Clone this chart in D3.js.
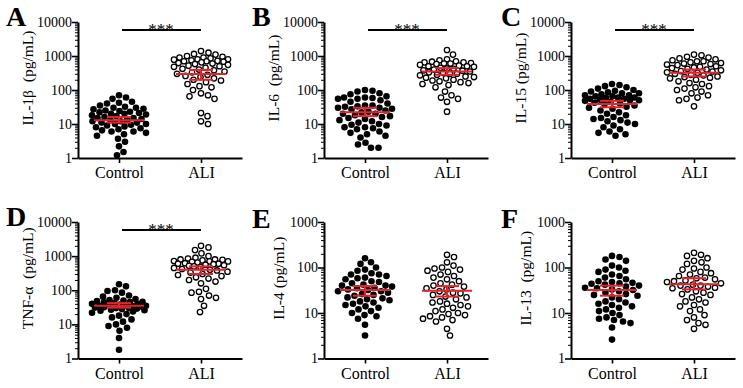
<!DOCTYPE html>
<html lang="en">
  <head>
    <meta charset="utf-8" />
    <title>Cytokines: Control vs ALI</title>
    <script type="text/javascript" src="https://cdn.jsdelivr.net/npm/d3@7"></script>
    <style type="text/css">
body { margin: 0; background: white; }
svg text { font-family: "Liberation Serif", "Times New Roman", serif; fill: black; }
    </style>
  </head>
  <body>
    <script type="text/javascript">
// values, pg/mL
var groups = ["Control", "ALI"];
var panelLetters = ["A", "B", "C", "D", "E", "F"];
var yLabels = ["IL-1\u03b2  (pg/mL)", "IL-6  (pg/mL)", "IL-15 (pg/mL)",
               "TNF-\u03b1  (pg/mL)", "IL-4 (pg/mL)", "IL-13  (pg/mL)"];
var yMax = [10000, 10000, 10000, 10000, 1000, 1000];
var showStars = [true, true, true, true, false, false];

var il1bControl = [70, 60, 55, 45, 42, 40, 35, 32, 30, 30, 28, 27, 25, 24, 23, 22, 21, 20, 20, 19,
  18, 17, 16, 15, 15, 14, 13, 13, 12, 12, 11, 11, 10, 10, 9.5, 9, 8.5, 8, 7.5, 7, 6.5, 6, 6, 5.5,
  5, 4.5, 3.7, 3, 2.2, 1.5, 1.2];
var il1bALI = [1400, 1250, 1150, 1100, 1000, 950, 900, 900, 850, 800, 800, 780, 750, 720, 700, 700,
  680, 650, 620, 600, 580, 550, 520, 500, 480, 450, 420, 400, 380, 350, 330, 300, 280, 260, 240,
  220, 200, 190, 170, 150, 130, 120, 100, 80, 70, 65, 55, 21, 17, 12, 10];
var il6Control = [100, 95, 90, 80, 75, 65, 60, 60, 58, 55, 55, 50, 45, 40, 35, 35, 33, 32, 30, 30,
  28, 27, 25, 23, 22, 20, 20, 18, 17, 16, 15, 14, 13, 12, 11, 10, 9.5, 9, 8, 8, 7.5, 7, 6, 5.5, 5,
  4.5, 4, 2.8, 2.5, 2, 2];
var il6ALI = [1500, 1100, 800, 750, 700, 680, 650, 650, 620, 600, 600, 580, 550, 520, 500, 500, 480,
  450, 430, 420, 400, 380, 370, 350, 330, 320, 300, 300, 280, 270, 250, 240, 230, 220, 200, 190,
  180, 170, 160, 150, 140, 120, 90, 70, 60, 55, 45, 23];
var il15Control = [150, 140, 130, 120, 110, 100, 95, 90, 85, 80, 80, 75, 70, 70, 65, 65, 60, 60, 58,
  55, 55, 52, 50, 50, 48, 45, 42, 40, 38, 35, 32, 30, 28, 25, 22, 20, 18, 16, 15, 14, 13, 12, 11,
  10, 9, 8, 7, 6, 5.5, 5, 4.5];
var il15ALI = [1100, 1050, 950, 900, 850, 800, 750, 700, 700, 650, 620, 600, 580, 560, 540, 500, 480,
  460, 440, 420, 400, 380, 360, 350, 330, 320, 300, 280, 270, 250, 240, 230, 220, 200, 180, 160,
  150, 130, 120, 110, 100, 90, 80, 70, 60, 55, 50, 33];
var tnfControl = [150, 130, 100, 95, 85, 70, 65, 60, 55, 52, 50, 48, 46, 45, 44, 42, 40, 40, 38, 37,
  36, 35, 35, 34, 33, 32, 31, 30, 30, 29, 28, 27, 26, 25, 24, 22, 20, 18, 16, 14, 12, 10, 9, 8,
  6.5, 4, 1.8];
var tnfALI = [2000, 1800, 1500, 1200, 1000, 900, 850, 800, 800, 780, 750, 720, 700, 700, 680, 650,
  620, 600, 600, 580, 560, 540, 520, 500, 480, 450, 420, 400, 380, 350, 330, 300, 280, 260, 240,
  220, 200, 180, 160, 110, 90, 85, 70, 60, 55, 35, 23];
var il4Control = [160, 130, 120, 100, 90, 85, 75, 70, 70, 65, 60, 58, 55, 50, 48, 45, 42, 40, 40, 38,
  36, 35, 33, 32, 30, 30, 28, 26, 25, 24, 22, 21, 20, 19, 18, 17, 16, 15, 14, 13, 12, 11, 10, 9,
  8.5, 7.5, 5.5, 3.2];
var il4ALI = [190, 170, 130, 110, 100, 95, 90, 85, 80, 70, 65, 60, 55, 50, 45, 42, 40, 38, 35, 33, 30,
  28, 27, 25, 23, 22, 20, 18, 17, 16, 15, 14, 13, 12, 11, 10, 9.5, 9, 8.5, 8, 7.5, 7, 6.5, 4.5, 3.2];
var il13Control = [180, 170, 150, 140, 110, 100, 90, 85, 80, 70, 65, 60, 55, 50, 48, 46, 45, 44, 42,
  40, 38, 36, 35, 33, 32, 30, 28, 26, 25, 24, 22, 20, 18, 17, 16, 15, 14, 13, 12, 11, 10, 9, 8,
  7.5, 7, 6.5, 6, 4.8, 2.6];
var il13ALI = [210, 190, 180, 160, 140, 130, 120, 100, 95, 90, 80, 75, 70, 65, 60, 58, 55, 52, 50, 48,
  45, 42, 40, 40, 38, 36, 35, 33, 30, 28, 26, 25, 22, 20, 18, 17, 15, 14, 12, 11, 9, 8, 7, 6, 5.5,
  4.5];

// mean and error bar ends [low, high] as drawn (control, ALI)
var means = [[13, 295], [22, 350], [39, 320], [35, 400], [32, 31], [32, 43]];
var errLow = [[11, 200], [17, 280], [31, 250], [31, 300], [24, 23], [24, 33]];
var errHigh = [[16, 390], [30, 440], [48, 400], [42, 500], [39, 39], [40, 58]];

var series = [[il1bControl, il1bALI], [il6Control, il6ALI], [il15Control, il15ALI],
              [tnfControl, tnfALI], [il4Control, il4ALI], [il13Control, il13ALI]];

var w = 743;
var h = 388;
var colX = [78, 324, 571];
var axisW = 164;
var rowY = [[22, 158], [222, 358.5]];
var r = 3.3;
var maxHalf = 27;
var red = "#e3242b";

var svg = d3.select("body")
            .append("svg")
            .attr("width", w)
            .attr("height", h);

// beeswarm inside a fixed width; where it is full, take the least crowded spot
function swarm(vals, y) {
  var minD = 2 * r + 0.6;
  var pts = vals.map(function(v) { return { v: v, y: y(v) }; })
                .sort(function(a, b) { return a.y - b.y; });
  var placed = [];
  pts.forEach(function(p) {
    var bestOff = 0, bestGap = -1;
    for (var k = 0; k <= maxHalf * 4; k++) {
      var off = (k % 2 ? 1 : -1) * Math.ceil(k / 2) * 0.5;
      var gap = Infinity;
      placed.forEach(function(q) {
        var dx = q.x - off, dy = q.y - p.y;
        gap = Math.min(gap, Math.sqrt(dx * dx + dy * dy));
      });
      if (gap >= minD) { bestOff = off; bestGap = gap; break; }
      if (gap > bestGap) { bestGap = gap; bestOff = off; }
    }
    p.x = bestOff;
    placed.push(p);
  });
  return pts;
}

series.forEach(function(pair, i) {
  var col = i % 3, row = Math.floor(i / 3);
  var x0 = colX[col];
  var yTop = rowY[row][0], yBot = rowY[row][1];
  var g = svg.append("g");

  var y = d3.scaleLog().domain([1, yMax[i]]).range([yBot, yTop]);
  var x = d3.scalePoint().domain(groups).range([x0, x0 + axisW]).padding(0.5);

  // minor ticks
  var minor = [];
  for (var d = 1; d < yMax[i]; d *= 10) {
    for (var m = 2; m <= 9; m++) minor.push(d * m);
  }
  var minorAxis = g.append("g")
    .attr("transform", "translate(" + x0 + ",0)")
    .call(d3.axisLeft(y).tickValues(minor).tickSize(3).tickFormat(""));
  minorAxis.select(".domain").remove();
  minorAxis.selectAll("line").attr("stroke-width", 1);

  var majors = [];
  for (var d2 = 1; d2 <= yMax[i]; d2 *= 10) majors.push(d2);
  var yAxis = g.append("g")
    .attr("transform", "translate(" + x0 + ",0)")
    .call(d3.axisLeft(y).tickValues(majors).tickSize(6).tickSizeOuter(0)
            .tickFormat(d3.format("d")));
  yAxis.select(".domain").attr("stroke-width", 2);
  yAxis.selectAll("line").attr("stroke-width", 1.6);
  yAxis.selectAll("text")
       .attr("x", -6)
       .style("font-size", "14px")
       .style("font-family", "Liberation Serif");

  var xAxis = g.append("g")
    .attr("transform", "translate(0," + yBot + ")")
    .call(d3.axisBottom(x).tickSize(5).tickSizeOuter(0));
  xAxis.select(".domain").attr("stroke-width", 2);
  xAxis.selectAll("line").attr("stroke-width", 1.6);
  xAxis.selectAll("text")
       .attr("y", 9)
       .style("font-size", "16px")
       .style("font-family", "Liberation Serif");

  // points
  pair.forEach(function(vals, gi) {
    var pts = swarm(vals, y);
    g.append("g")
     .selectAll("circle")
     .data(pts)
     .enter()
     .append("circle")
     .attr("cx", function(p) { return x(groups[gi]) + p.x; })
     .attr("cy", function(p) { return p.y; })
     .attr("r", gi === 0 ? r : r - 0.6)
     .attr("fill", gi === 0 ? "black" : "white")
     .attr("stroke", "black")
     .attr("stroke-width", gi === 0 ? 0 : 1.3);
  });

  // mean and error bars
  groups.forEach(function(gname, gi) {
    var cx = x(gname);
    var eg = g.append("g").attr("stroke", red).attr("stroke-width", 2);
    eg.append("line")
      .attr("x1", cx).attr("x2", cx)
      .attr("y1", y(errLow[i][gi])).attr("y2", y(errHigh[i][gi]));
    [errLow[i][gi], errHigh[i][gi]].forEach(function(v) {
      eg.append("line")
        .attr("x1", cx - 12).attr("x2", cx + 12)
        .attr("y1", y(v)).attr("y2", y(v));
    });
    eg.append("line")
      .attr("x1", cx - 25).attr("x2", cx + 25)
      .attr("y1", y(means[i][gi])).attr("y2", y(means[i][gi]));
  });

  // significance bar
  if (showStars[i]) {
    var by = yTop + 8;
    g.append("line")
     .attr("x1", x(groups[0]) + 3).attr("x2", x(groups[1]))
     .attr("y1", by).attr("y2", by)
     .attr("stroke", "black").attr("stroke-width", 2);
    g.append("text")
     .attr("x", (x(groups[0]) + x(groups[1])) / 2 + 1)
     .attr("y", by + 5)
     .attr("text-anchor", "middle")
     .style("font-size", "17px")
     .text("***");
  }

  // y label
  var ly = (yTop + yBot) / 2 - 12;
  var lx = x0 - (yMax[i] >= 10000 ? 45 : 40);
  g.append("text")
   .attr("transform", "translate(" + lx + "," + ly + ") rotate(-90)")
   .attr("text-anchor", "middle")
   .style("font-size", "15.5px")
   .style("white-space", "pre")
   .text(yLabels[i]);

  // panel letter
  g.append("text")
   .attr("x", x0 - 72 + (col === 2 ? 2 : 0))
   .attr("y", yTop + 4 + (row === 1 && col > 0 ? 2 : 0))
   .style("font-size", "28px")
   .style("font-weight", "bold")
   .text(panelLetters[i]);
});
    </script>
  </body>
</html>
